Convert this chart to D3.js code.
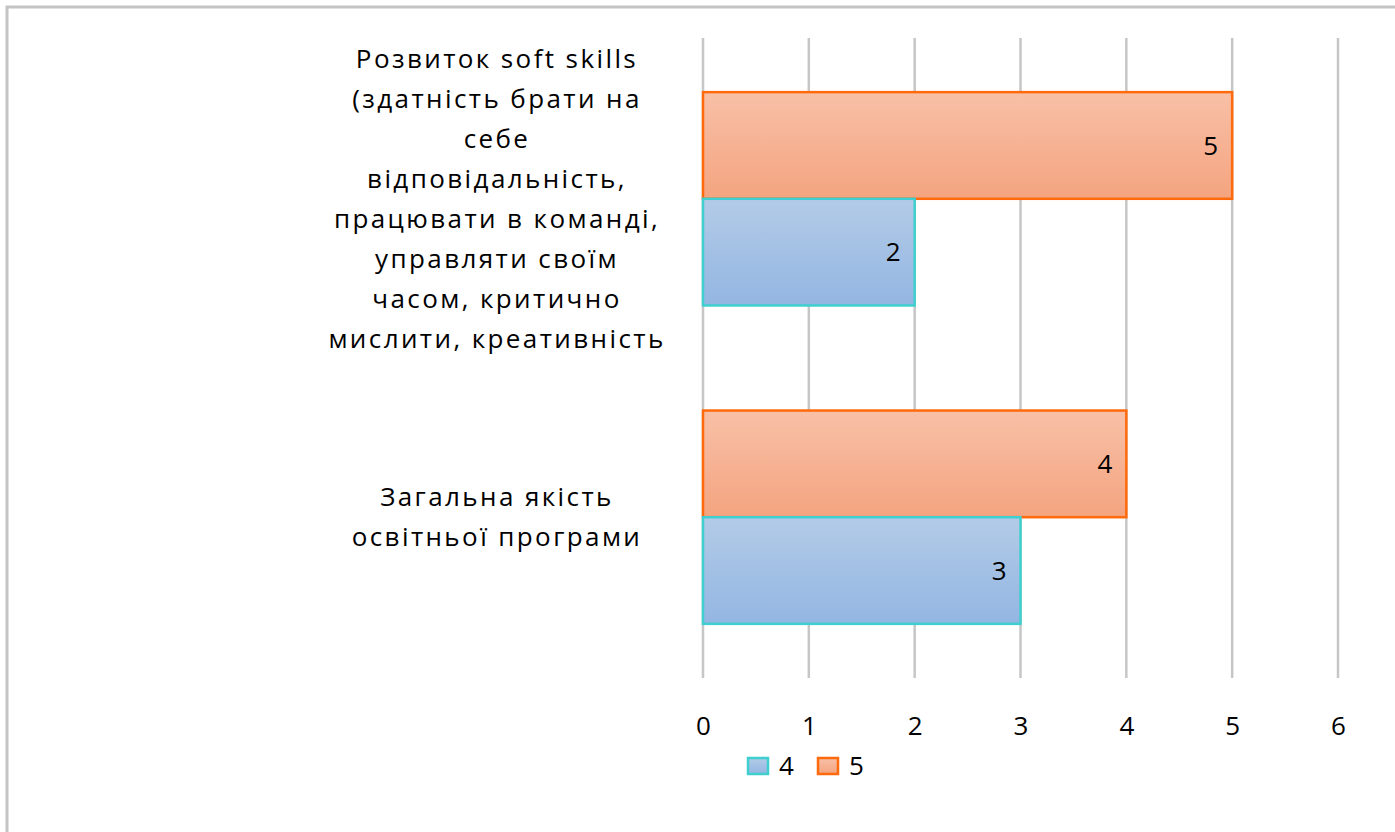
<!DOCTYPE html>
<html>
<head>
<meta charset="utf-8">
<script src="https://cdn.jsdelivr.net/npm/d3@7"></script>
<style>
  body { margin: 0; background: #fff; }
  svg { display: block; font-family: "Open Sans", "Noto Sans", sans-serif; }
</style>
</head>
<body>
<div id="chart"></div>
<script>
// Categories top to bottom, with wrapped label lines
const categories = ['soft', 'quality'];
const categoryLines = [
  ['Розвиток soft skills', '(здатність брати на', 'себе', 'відповідальність,',
   'працювати в команді,', 'управляти своїм', 'часом, критично', 'мислити, креативність'],
  ['Загальна якість', 'освітньої програми']
];
const seriesNames = ['5', '4'];        // drawn top to bottom inside each group
const values5 = [5, 4];
const values4 = [2, 3];
const xTicks = [0, 1, 2, 3, 4, 5, 6];

const W = 1395, H = 832;
const m = { left: 703, right: 57, top: 38, bottom: 154 };
const FONT = 26;

const svg = d3.select('#chart').append('svg')
  .attr('width', W).attr('height', H);

const defs = svg.append('defs');
function grad(id, c0, c1) {
  const g = defs.append('linearGradient').attr('id', id)
    .attr('x1', 0).attr('y1', 0).attr('x2', 0).attr('y2', 1);
  g.append('stop').attr('offset', '0%').attr('stop-color', c0);
  g.append('stop').attr('offset', '100%').attr('stop-color', c1);
}
grad('gBlue', '#b3cbe7', '#93b6e2');
grad('gOrange', '#f8c0a7', '#f4a47f');

const colors = {
  '4': { fill: 'url(#gBlue)', stroke: '#3fcfcf' },
  '5': { fill: 'url(#gOrange)', stroke: '#ff6a0d' }
};

// outer frame
svg.append('rect')
  .attr('x', 7).attr('y', 7).attr('width', W + 20).attr('height', H + 20)
  .attr('fill', 'none').attr('stroke', '#c4c4c4').attr('stroke-width', 3);

const x = d3.scaleLinear().domain([0, 6]).range([m.left, W - m.right]);
const y = d3.scaleBand().domain(categories)
  .range([m.top, H - m.bottom]).paddingInner(0.33).paddingOuter(0.17);
const ySub = d3.scaleBand().domain(seriesNames).range([0, y.bandwidth()]);

// gridlines
svg.append('g')
  .selectAll('line').data(xTicks).join('line')
  .attr('x1', d => x(d)).attr('x2', d => x(d))
  .attr('y1', m.top).attr('y2', H - m.bottom)
  .attr('stroke', '#c6c6c6').attr('stroke-width', 2.5);

// x axis labels
const xAxis = d3.axisBottom(x).tickValues(xTicks).tickFormat(d3.format('d'))
  .tickSize(0).tickPadding(0);
const ax = svg.append('g').attr('transform', `translate(0,${H - m.bottom + 39})`).call(xAxis);
ax.select('.domain').remove();
ax.selectAll('text').attr('font-size', FONT).attr('fill', '#000')
  .attr('font-family', '"Open Sans", "Noto Sans", sans-serif');

// bars
const rows = [];
categories.forEach((c, i) => {
  rows.push({ cat: c, s: '5', v: values5[i] });
  rows.push({ cat: c, s: '4', v: values4[i] });
});

const bars = svg.append('g').selectAll('g').data(rows).join('g')
  .attr('transform', d => `translate(0,${y(d.cat) + ySub(d.s)})`);

bars.append('rect')
  .attr('x', x(0)).attr('y', 0)
  .attr('width', d => x(d.v) - x(0))
  .attr('height', ySub.bandwidth())
  .attr('fill', d => colors[d.s].fill)
  .attr('stroke', d => colors[d.s].stroke)
  .attr('stroke-width', 2.5);

bars.append('text')
  .attr('x', d => x(d.v) - 14)
  .attr('y', ySub.bandwidth() / 2)
  .attr('dy', '0.35em')
  .attr('text-anchor', 'end')
  .attr('font-size', FONT)
  .text(d => d.v);

// category labels
const labelX = 497, lineH = 40;
categories.forEach((c, i) => {
  const lines = categoryLines[i];
  const cy = y(c) + y.bandwidth() / 2;
  const t = svg.append('text')
    .attr('text-anchor', 'middle')
    .attr('font-size', FONT)
    .attr('fill', '#000');
  lines.forEach((ln, k) => {
    t.append('tspan')
      .attr('x', labelX)
      .attr('y', cy + (k - (lines.length - 1) / 2) * lineH)
      .attr('dy', '0.35em')
      .attr('letter-spacing', 2.4)
      .text(ln);
  });
});

// legend
const legendItems = ['4', '5'];
const lg = svg.append('g').attr('transform', 'translate(748,758)');
const li = lg.selectAll('g').data(legendItems).join('g')
  .attr('transform', (d, i) => `translate(${i * 70},0)`);
li.append('rect')
  .attr('width', 20).attr('height', 16)
  .attr('fill', d => colors[d].fill)
  .attr('stroke', d => colors[d].stroke)
  .attr('stroke-width', 2.5);
li.append('text')
  .attr('x', 31).attr('y', 8).attr('dy', '0.35em')
  .attr('font-size', FONT)
  .text(d => d);
</script>
</body>
</html>
